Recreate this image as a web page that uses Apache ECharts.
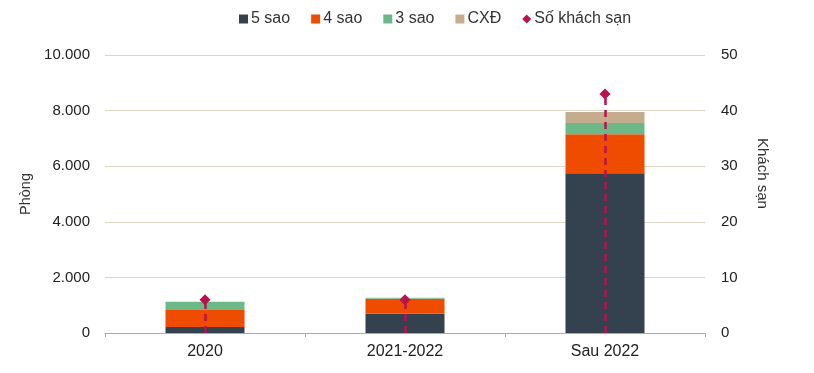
<!DOCTYPE html>
<html><head><meta charset="utf-8">
<script src="https://cdn.jsdelivr.net/npm/echarts@6/dist/echarts.min.js"></script>
<style>html,body{margin:0;padding:0;background:#fff}#c{width:814px;height:373px}</style>
</head><body><div id="c"></div>
<script>
var categories = ['2020', '2021-2022', 'Sau 2022'];
var fiveStar = [220, 690, 5750];
var fourStar = [610, 530, 1400];
var threeStar = [290, 30, 400];
var cxd = [0, 20, 400];
var hotels = [6, 6, 43];
var leftTicks = [0, 2000, 4000, 6000, 8000, 10000];
var rightTicks = [0, 10, 20, 30, 40, 50];

var font = 'Liberation Sans, Arial, sans-serif';
var chart = echarts.init(document.getElementById('c'));
function bar(name, data, color) {
  return { name: name, type: 'bar', stack: 's', data: data, barWidth: 79,
    itemStyle: { color: color }, emphasis: { disabled: true } };
}
var dropLines = categories.map(function (c, i) {
  return [{ xAxis: c, yAxis: 0 }, { xAxis: c, yAxis: hotels[i] }];
});
chart.setOption({
  animation: false,
  textStyle: { fontFamily: font },
  legend: {
    top: 6, left: 234, itemGap: 21, itemWidth: 9, itemHeight: 9,
    textStyle: { fontSize: 16, color: '#333', fontFamily: font, padding: [0, 0, 0, -2] },
    data: [
      { name: '5 sao', icon: 'rect' }, { name: '4 sao', icon: 'rect' },
      { name: '3 sao', icon: 'rect' }, { name: 'CXĐ', icon: 'rect' },
      { name: 'Số khách sạn', icon: 'diamond' }
    ]
  },
  graphic: [{
    type: 'text', left: 755, top: 138, rotation: -Math.PI / 2,
    style: { text: 'Khách sạn', font: '15px ' + font, fill: '#333' }
  }],
  grid: { left: 105, right: 109, top: 55, bottom: 40 },
  xAxis: {
    type: 'category', data: categories,
    axisLine: { lineStyle: { color: '#b0ab9c' } },
    axisTick: { show: true, length: 4, lineStyle: { color: '#b0ab9c' } },
    axisLabel: { fontSize: 16, color: '#222', margin: 11 }
  },
  yAxis: [{
    type: 'value', min: 0, max: 10000, interval: 2000,
    name: 'Phòng', nameLocation: 'middle', nameGap: 70, nameRotate: 90,
    nameTextStyle: { fontSize: 14.5, color: '#333' },
    axisLabel: { fontSize: 15, color: '#222', margin: 15,
      formatter: function (v) { return v.toLocaleString('de-DE'); } },
    splitLine: { lineStyle: { color: '#dcd6c4', width: 1 } },
    axisLine: { show: false }, axisTick: { show: false }
  }, {
    type: 'value', min: 0, max: 50, interval: 10,
    axisLabel: { fontSize: 15, color: '#222', margin: 16 },
    splitLine: { show: false }, axisLine: { show: false }, axisTick: { show: false }
  }],
  series: [
    bar('5 sao', fiveStar, '#34424f'),
    bar('4 sao', fourStar, '#f04c00'),
    bar('3 sao', threeStar, '#6cb888'),
    bar('CXĐ', cxd, '#c4ad8e'),
    {
      name: 'Số khách sạn', type: 'scatter', yAxisIndex: 1, data: hotels,
      symbol: 'diamond', symbolSize: 11, z: 5,
      itemStyle: { color: '#b8124f', opacity: 1 },
      markLine: {
        silent: true, symbol: ['none', 'none'], label: { show: false },
        lineStyle: { color: '#b8124f', type: [7, 5], width: 2.5, opacity: 1 },
        data: dropLines
      }
    }
  ]
});
</script></body></html>
